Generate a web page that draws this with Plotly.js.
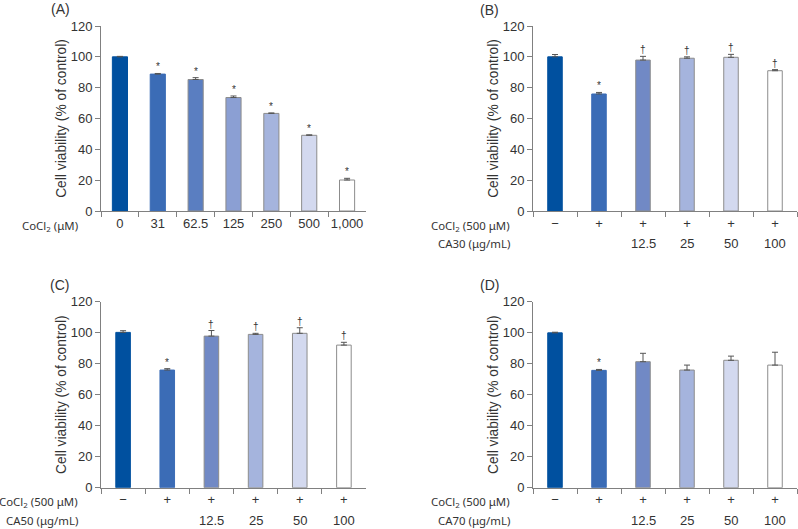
<!DOCTYPE html>
<html>
<head>
<meta charset="utf-8">
<script src="https://cdn.plot.ly/plotly-3.0.1.min.js"></script>
<style>html,body{margin:0;padding:0;background:#fff;}#chart{width:798px;height:529px;}</style>
</head>
<body>
<div id="chart"></div>
<script>
// ---- Data ----
const doseA = ['0', '31', '62.5', '125', '250', '500', '1,000'];
const viabA = [100, 88.8, 85.3, 73.6, 63.3, 49.1, 20.1];
const errA = [0.3, 0.4, 1.2, 1.0, 0.3, 0.3, 1.1];
const sigA = ['', '*', '*', '*', '*', '*', '*'];

const groups = ['Control', 'CoCl2', 'CoCl2+12.5', 'CoCl2+25', 'CoCl2+50', 'CoCl2+100'];
const cocl2Row = ['\u2212', '+', '+', '+', '+', '+'];
const caRow = ['', '', '12.5', '25', '50', '100'];

const viabB = [100, 75.9, 97.9, 99.1, 99.7, 91.0];
const errB = [1.5, 1.0, 2.4, 0.9, 1.9, 0.7];
const sigB = ['', '*', '\u2020', '\u2020', '\u2020', '\u2020'];

const viabC = [100.2, 75.9, 97.8, 98.9, 99.6, 92.0];
const errC = [1.1, 0.9, 3.6, 0.7, 3.6, 1.8];
const sigC = ['', '*', '\u2020', '\u2020', '\u2020', '\u2020'];

const viabD = [99.9, 75.7, 81.3, 75.9, 82.2, 79.1];
const errD = [0.4, 0.6, 5.4, 3.2, 2.7, 8.3];
const sigD = ['', '*', '', '', '', ''];

const yTicks = [0, 20, 40, 60, 80, 100, 120];
const yTitle = 'Cell viability (% of control)';

// ---- Styles ----
const colorsA = ['#00509f', '#3b6cb6', '#5a7ec1', '#8b9fd3', '#a5b4dd', '#d3d9ef', '#ffffff'];
const colorsBCD = ['#00509f', '#3b6cb6', '#7189c5', '#a5b4dd', '#d3d9ef', '#ffffff'];
const W = 798, H = 529;
const numFont = 'Liberation Sans, Arial, sans-serif';
const lblFont = 'Noto Sans, sans-serif';
const txt = '#333333';
const axCol = '#808080';

function lineColors(cols) { return cols.map((c, i) => i < 2 ? c : '#8c8c8c'); }

const panels = [
  {id: '', x: doseA, y: viabA, e: errA, sig: sigA, cols: colorsA, w: 0.4, ticktext: doseA,
   xd: [101, 366], yd: [211, 26], label: '(A)', lx: 49, ly: 9,
   rowLabels: ['CoCl<sub>2</sub> (\u03bcM)'], row2: null},
  {id: '2', x: groups, y: viabB, e: errB, sig: sigB, cols: colorsBCD, w: 0.33, ticktext: cocl2Row,
   xd: [533, 797], yd: [211, 26], label: '(B)', lx: 478, ly: 10,
   rowLabels: ['CoCl<sub>2</sub> (500 \u03bcM)', 'CA30 (\u03bcg/mL)'], row2: caRow},
  {id: '3', x: groups, y: viabC, e: errC, sig: sigC, cols: colorsBCD, w: 0.33, ticktext: cocl2Row,
   xd: [101, 366], yd: [487.7, 301.7], label: '(C)', lx: 48, ly: 285,
   rowLabels: ['CoCl<sub>2</sub> (500 \u03bcM)', 'CA50 (\u03bcg/mL)'], row2: caRow},
  {id: '4', x: groups, y: viabD, e: errD, sig: sigD, cols: colorsBCD, w: 0.33, ticktext: cocl2Row,
   xd: [533, 797], yd: [487.7, 301.7], label: '(D)', lx: 478, ly: 285,
   rowLabels: ['CoCl<sub>2</sub> (500 \u03bcM)', 'CA70 (\u03bcg/mL)'], row2: caRow}
];

const data = [];
const layout = {
  width: W, height: H,
  margin: {l: 0, r: 0, t: 0, b: 0},
  paper_bgcolor: '#fff', plot_bgcolor: '#fff',
  showlegend: false,
  annotations: []
};

panels.forEach(p => {
  const xa = 'x' + p.id, ya = 'y' + p.id;
  data.push({
    type: 'bar', x: p.x, y: p.y, xaxis: xa, yaxis: ya, width: p.w,
    marker: {color: p.cols, line: {color: lineColors(p.cols), width: 1}},
    error_y: {type: 'data', symmetric: false, array: p.e, arrayminus: p.e.map(() => 0),
              color: '#555555', thickness: 1, width: 3},
    hoverinfo: 'x+y'
  });
  const yRow1 = p.yd[0] + 14.7, yRow2 = p.yd[0] + 33;
  layout['xaxis' + p.id] = {
    domain: [p.xd[0] / W, p.xd[1] / W], anchor: ya, type: 'category',
    range: [-0.5, p.x.length - 0.5],
    tickmode: 'array', tickvals: p.x, ticktext: p.ticktext, tickson: 'boundaries',
    ticks: 'outside', ticklen: 5, tickcolor: axCol, tickwidth: 1,
    showline: true, linecolor: axCol, linewidth: 1, showgrid: false, zeroline: false,
    tickfont: {family: numFont, size: 13, color: txt}, fixedrange: true
  };
  layout['yaxis' + p.id] = {
    domain: [1 - p.yd[0] / H, 1 - p.yd[1] / H], anchor: xa,
    range: [0, 120], tickmode: 'array', tickvals: yTicks,
    ticks: 'outside', ticklen: 5, tickcolor: axCol, tickwidth: 1,
    showline: true, linecolor: axCol, linewidth: 1, showgrid: false, zeroline: false,
    tickfont: {family: numFont, size: 13, color: txt},
    title: {text: yTitle, font: {family: numFont, size: 13.8, color: txt}, standoff: 0},
    fixedrange: true
  };
  // panel label
  layout.annotations.push({xref: 'paper', yref: 'paper', x: p.lx / W, y: 1 - p.ly / H,
    xanchor: 'left', yanchor: 'middle', showarrow: false, text: p.label,
    font: {family: numFont, size: 14, color: txt}});
  // row labels
  p.rowLabels.forEach((t, k) => {
    layout.annotations.push({xref: 'paper', yref: 'paper', x: (p.xd[0] - 21) / W,
      y: 1 - (k === 0 ? yRow1 : yRow2) / H, xanchor: 'right', yanchor: 'middle',
      showarrow: false, text: t, font: {family: lblFont, size: 11.4, color: txt}});
  });
  // second row values (category index positions)
  if (p.row2) {
    p.row2.forEach((t, i) => {
      if (!t) return;
      layout.annotations.push({xref: xa, yref: 'paper', x: i, y: 1 - yRow2 / H,
        xanchor: 'center', yanchor: 'middle', showarrow: false, text: t,
        font: {family: numFont, size: 13, color: txt}});
    });
  }
  // significance marks
  p.sig.forEach((s, i) => {
    if (!s) return;
    layout.annotations.push({xref: xa, yref: ya, x: i, y: p.y[i] + p.e[i],
      xanchor: 'center', yanchor: 'bottom', yshift: -1, showarrow: false, text: s,
      font: {family: numFont, size: 10, color: txt}});
  });
});

Plotly.newPlot('chart', data, layout, {displayModeBar: false, staticPlot: true});
</script>
</body>
</html>
